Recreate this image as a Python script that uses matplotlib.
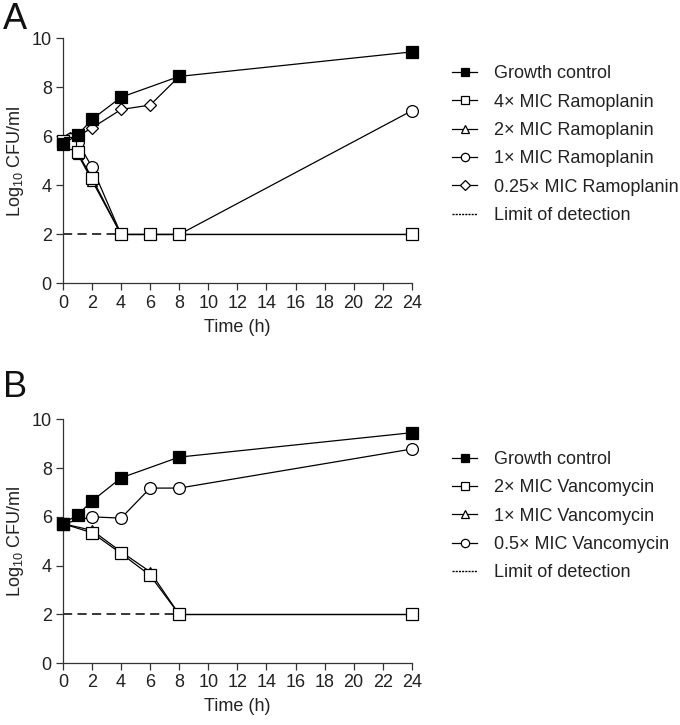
import matplotlib
matplotlib.use("Agg")
import matplotlib.pyplot as plt
from matplotlib.lines import Line2D

plt.rcParams['font.family'] = ['Liberation Sans', 'DejaVu Sans']
plt.rcParams['mathtext.fontset'] = 'custom'
plt.rcParams['mathtext.rm'] = 'Liberation Sans'
plt.rcParams['mathtext.it'] = 'Liberation Sans'

# ---------------- Panel A data (Ramoplanin) ----------------
a_growth_t = [0, 1, 2, 4, 8, 24]
a_growth_v = [5.7, 6.05, 6.7, 7.6, 8.45, 9.45]
a_4x_t = [0, 0.5, 1, 2, 4, 6, 8, 24]
a_4x_v = [5.8, 5.75, 5.35, 4.3, 2, 2, 2, 2]
a_2x_t = [0, 0.5, 1, 2, 4, 6, 8, 24]
a_2x_v = [5.8, 5.7, 5.3, 4.2, 2, 2, 2, 2]
a_1x_t = [0, 0.5, 1, 2, 4, 6, 8, 24]
a_1x_v = [5.8, 5.9, 5.78, 4.75, 2, 2, 2, 7.05]
a_025x_t = [0, 0.5, 1, 2, 4, 6, 8]
a_025x_v = [5.8, 5.95, 6.0, 6.35, 7.1, 7.28, 8.45]
a_lod_t = [0, 4]
a_labels = ["Growth control", "4\u00d7 MIC Ramoplanin", "2\u00d7 MIC Ramoplanin",
            "1\u00d7 MIC Ramoplanin", "0.25\u00d7 MIC Ramoplanin", "Limit of detection"]

# ---------------- Panel B data (Vancomycin) ----------------
b_growth_t = [0, 1, 2, 4, 8, 24]
b_growth_v = [5.72, 6.08, 6.65, 7.6, 8.45, 9.45]
b_2x_t = [0, 2, 4, 6, 8, 24]
b_2x_v = [5.72, 5.35, 4.5, 3.6, 2, 2]
b_1x_t = [0, 2, 4, 6, 8, 24]
b_1x_v = [5.72, 5.45, 4.57, 3.75, 2, 2]
b_05x_t = [0, 2, 4, 6, 8, 24]
b_05x_v = [5.72, 6.0, 5.95, 7.18, 7.18, 8.78]
b_lod_t = [0, 8]
b_labels = ["Growth control", "2\u00d7 MIC Vancomycin", "1\u00d7 MIC Vancomycin",
            "0.5\u00d7 MIC Vancomycin", "Limit of detection"]

lod_value = 2
xticks = list(range(0, 25, 2))
yticks = [0, 2, 4, 6, 8, 10]

fig = plt.figure(figsize=(6.8, 7.25), dpi=100)
axA = fig.add_axes([0.0926, 0.609, 0.513, 0.338])
axB = fig.add_axes([0.0926, 0.0851, 0.513, 0.3366])

lw = 0.9
fs = 13

def style_axes(ax):
    ax.set_xlim(0, 24)
    ax.set_ylim(0, 10)
    ax.set_xticks(xticks)
    ax.set_yticks(yticks)
    for s in ['top', 'right']:
        ax.spines[s].set_visible(False)
    for s in ['left', 'bottom']:
        ax.spines[s].set_linewidth(0.9)
        ax.spines[s].set_color('#333333')
    ax.tick_params(direction='out', length=5, width=0.9, labelsize=fs, colors='#333333',
                   labelcolor='#222222', pad=3)
    ax.set_xlabel("Time (h)", fontsize=fs, color='#222222', labelpad=5)
    ax.set_ylabel(r"Log$_{10}$ CFU/ml", fontsize=fs, color='#222222', labelpad=4)

def plot_series(ax, t, v, marker, filled, ms, z):
    ax.plot(t, v, color='black', lw=lw, marker=marker, ms=ms,
            mfc='black' if filled else 'white', mec='black', mew=0.9,
            zorder=z, clip_on=False)

# Panel A
axA.plot(a_lod_t, [lod_value] * len(a_lod_t), color='black', lw=1.1, ls=(0, (6, 3.5)), zorder=1)
plot_series(axA, a_025x_t, a_025x_v, 'D', False, 6, 3)
plot_series(axA, a_1x_t, a_1x_v, 'o', False, 8.5, 4)
plot_series(axA, a_2x_t, a_2x_v, '^', False, 7.5, 5)
plot_series(axA, a_4x_t, a_4x_v, 's', False, 8, 6)
plot_series(axA, a_growth_t, a_growth_v, 's', True, 9, 7)
style_axes(axA)

# Panel B
axB.plot(b_lod_t, [lod_value] * len(b_lod_t), color='black', lw=1.1, ls=(0, (6, 3.5)), zorder=1)
plot_series(axB, b_05x_t, b_05x_v, 'o', False, 8.5, 4)
plot_series(axB, b_1x_t, b_1x_v, '^', False, 7.5, 5)
plot_series(axB, b_2x_t, b_2x_v, 's', False, 8, 6)
plot_series(axB, b_growth_t, b_growth_v, 's', True, 9, 7)
style_axes(axB)

def h(marker, filled, ms=6):
    return Line2D([0], [0], color='black', lw=lw, marker=marker, ms=ms,
                  mfc='black' if filled else 'white', mec='black', mew=0.9)

lod_handle = Line2D([0], [0], color='black', lw=1.0, ls=(0, (1.5, 0.8)))

handlesA = [h('s', True), h('s', False), h('^', False), h('o', False), h('D', False, 5), lod_handle]
handlesB = [h('s', True), h('s', False), h('^', False), h('o', False), lod_handle]

leg_kw = dict(frameon=False, fontsize=fs, handlelength=1.4, handletextpad=0.9,
              labelspacing=0.63, borderaxespad=0, borderpad=0)
legA = fig.legend(handlesA, a_labels, loc='upper left', bbox_to_anchor=(0.665, 0.91), **leg_kw)
legB = fig.legend(handlesB, b_labels, loc='upper left', bbox_to_anchor=(0.665, 0.378), **leg_kw)
for leg in (legA, legB):
    for t in leg.get_texts():
        t.set_color('#222222')

fig.text(0.004, 0.997, "A", fontsize=26, va='top', ha='left', color='#111111')
fig.text(0.004, 0.49, "B", fontsize=26, va='top', ha='left', color='#111111')

fig.savefig("out.png", dpi=100)
